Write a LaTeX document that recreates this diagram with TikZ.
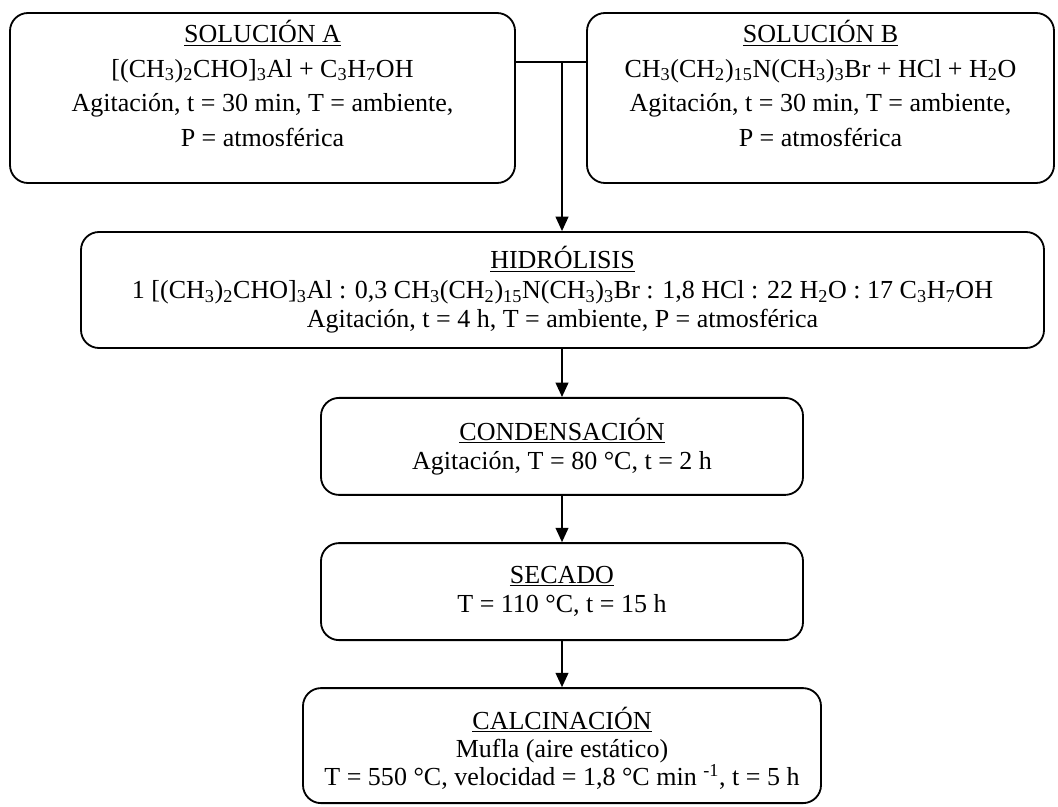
\documentclass[tikz,border=0pt]{standalone}
\usepackage{fontspec}
\setmainfont{Liberation Serif}
\usetikzlibrary{arrows.meta, positioning}
\newcommand{\sbs}[1]{\textsubscript{#1}}

\begin{document}
\begin{tikzpicture}[box/.style={draw, line width=1.3pt, rounded corners=0.45cm, inner sep=0pt}, txt/.style={align=center, inner sep=0pt, font=\fontsize{18.5}{21}\selectfont}, wide/.style={txt, font=\fontsize{18.5}{24.5}\selectfont}, flow/.style={-{Triangle[length=3.6mm, width=3.2mm]}, line width=1.2pt}, link/.style={line width=1.2pt}]
\useasboundingbox (0,0) rectangle (26.45,-20.15);

\node[box, minimum width=12.625cm, minimum height=4.25cm] (solA) at (6.5625,-2.45) {}; \node[wide, below=0.2cm of solA.north] (solAtxt) {\underline{SOLUCIÓN A}\\ {[}(CH\sbs{3})\sbs{2}CHO]\sbs{3}Al + C\sbs{3}H\sbs{7}OH\\ Agitación, t = 30 min, T = ambiente,\\ P = atmosférica};
\node[box, minimum width=11.675cm, minimum height=4.25cm] (solB) at (20.5125,-2.45) {}; \node[wide, below=0.2cm of solB.north] (solBtxt) {\underline{SOLUCIÓN B}\\ CH\sbs{3}(CH\sbs{2})\sbs{15}N(CH\sbs{3})\sbs{3}Br + HCl + H\sbs{2}O\\ Agitación, t = 30 min, T = ambiente,\\ P = atmosférica};

\node[box, minimum width=24.075cm, minimum height=2.9cm] (hidro) at (14.0625,-7.25) {}; \node[txt] (hidrotxt) at (hidro) {\underline{HIDRÓLISIS}\\ 1 [(CH\sbs{3})\sbs{2}CHO]\sbs{3}Al : 0,3 CH\sbs{3}(CH\sbs{2})\sbs{15}N(CH\sbs{3})\sbs{3}Br : 1,8 HCl : 22 H\sbs{2}O : 17 C\sbs{3}H\sbs{7}OH\\ Agitación, t = 4 h, T = ambiente, P = atmosférica};

\node[box, minimum width=12.05cm, minimum height=2.425cm] (cond) at (14.05,-11.16) {}; \node[txt] (condtxt) at (cond) {\underline{CONDENSACIÓN}\\ Agitación, T = 80 °C, t = 2 h};
\node[box, minimum width=12.05cm, minimum height=2.425cm] (secado) at (14.05,-14.79) {}; \node[txt] (secadotxt) at (secado) {\underline{SECADO}\\ T = 110 °C, t = 15 h};
\node[box, minimum width=12.95cm, minimum height=2.875cm] (calc) at (14.05,-18.64) {}; \node[txt, font=\fontsize{18.5}{20}\selectfont, below=0.48cm of calc.north] (calctxt) {\underline{CALCINACIÓN}\\ Mufla (aire estático)\\ T = 550 °C, velocidad = 1,8 °C min \textsuperscript{-1}, t = 5 h};

% union de las dos soluciones
\coordinate (J) at (14.05,-1.55); \draw[link] (solA.east |- J) -- (solB.west |- J); \draw[flow] (J) -- (J |- hidro.north);
\draw[flow] (hidro.south -| cond.north) -- (cond.north); \draw[flow] (cond.south) -- (secado.north); \draw[flow] (secado.south) -- (calc.north);
\end{tikzpicture}
\end{document}
